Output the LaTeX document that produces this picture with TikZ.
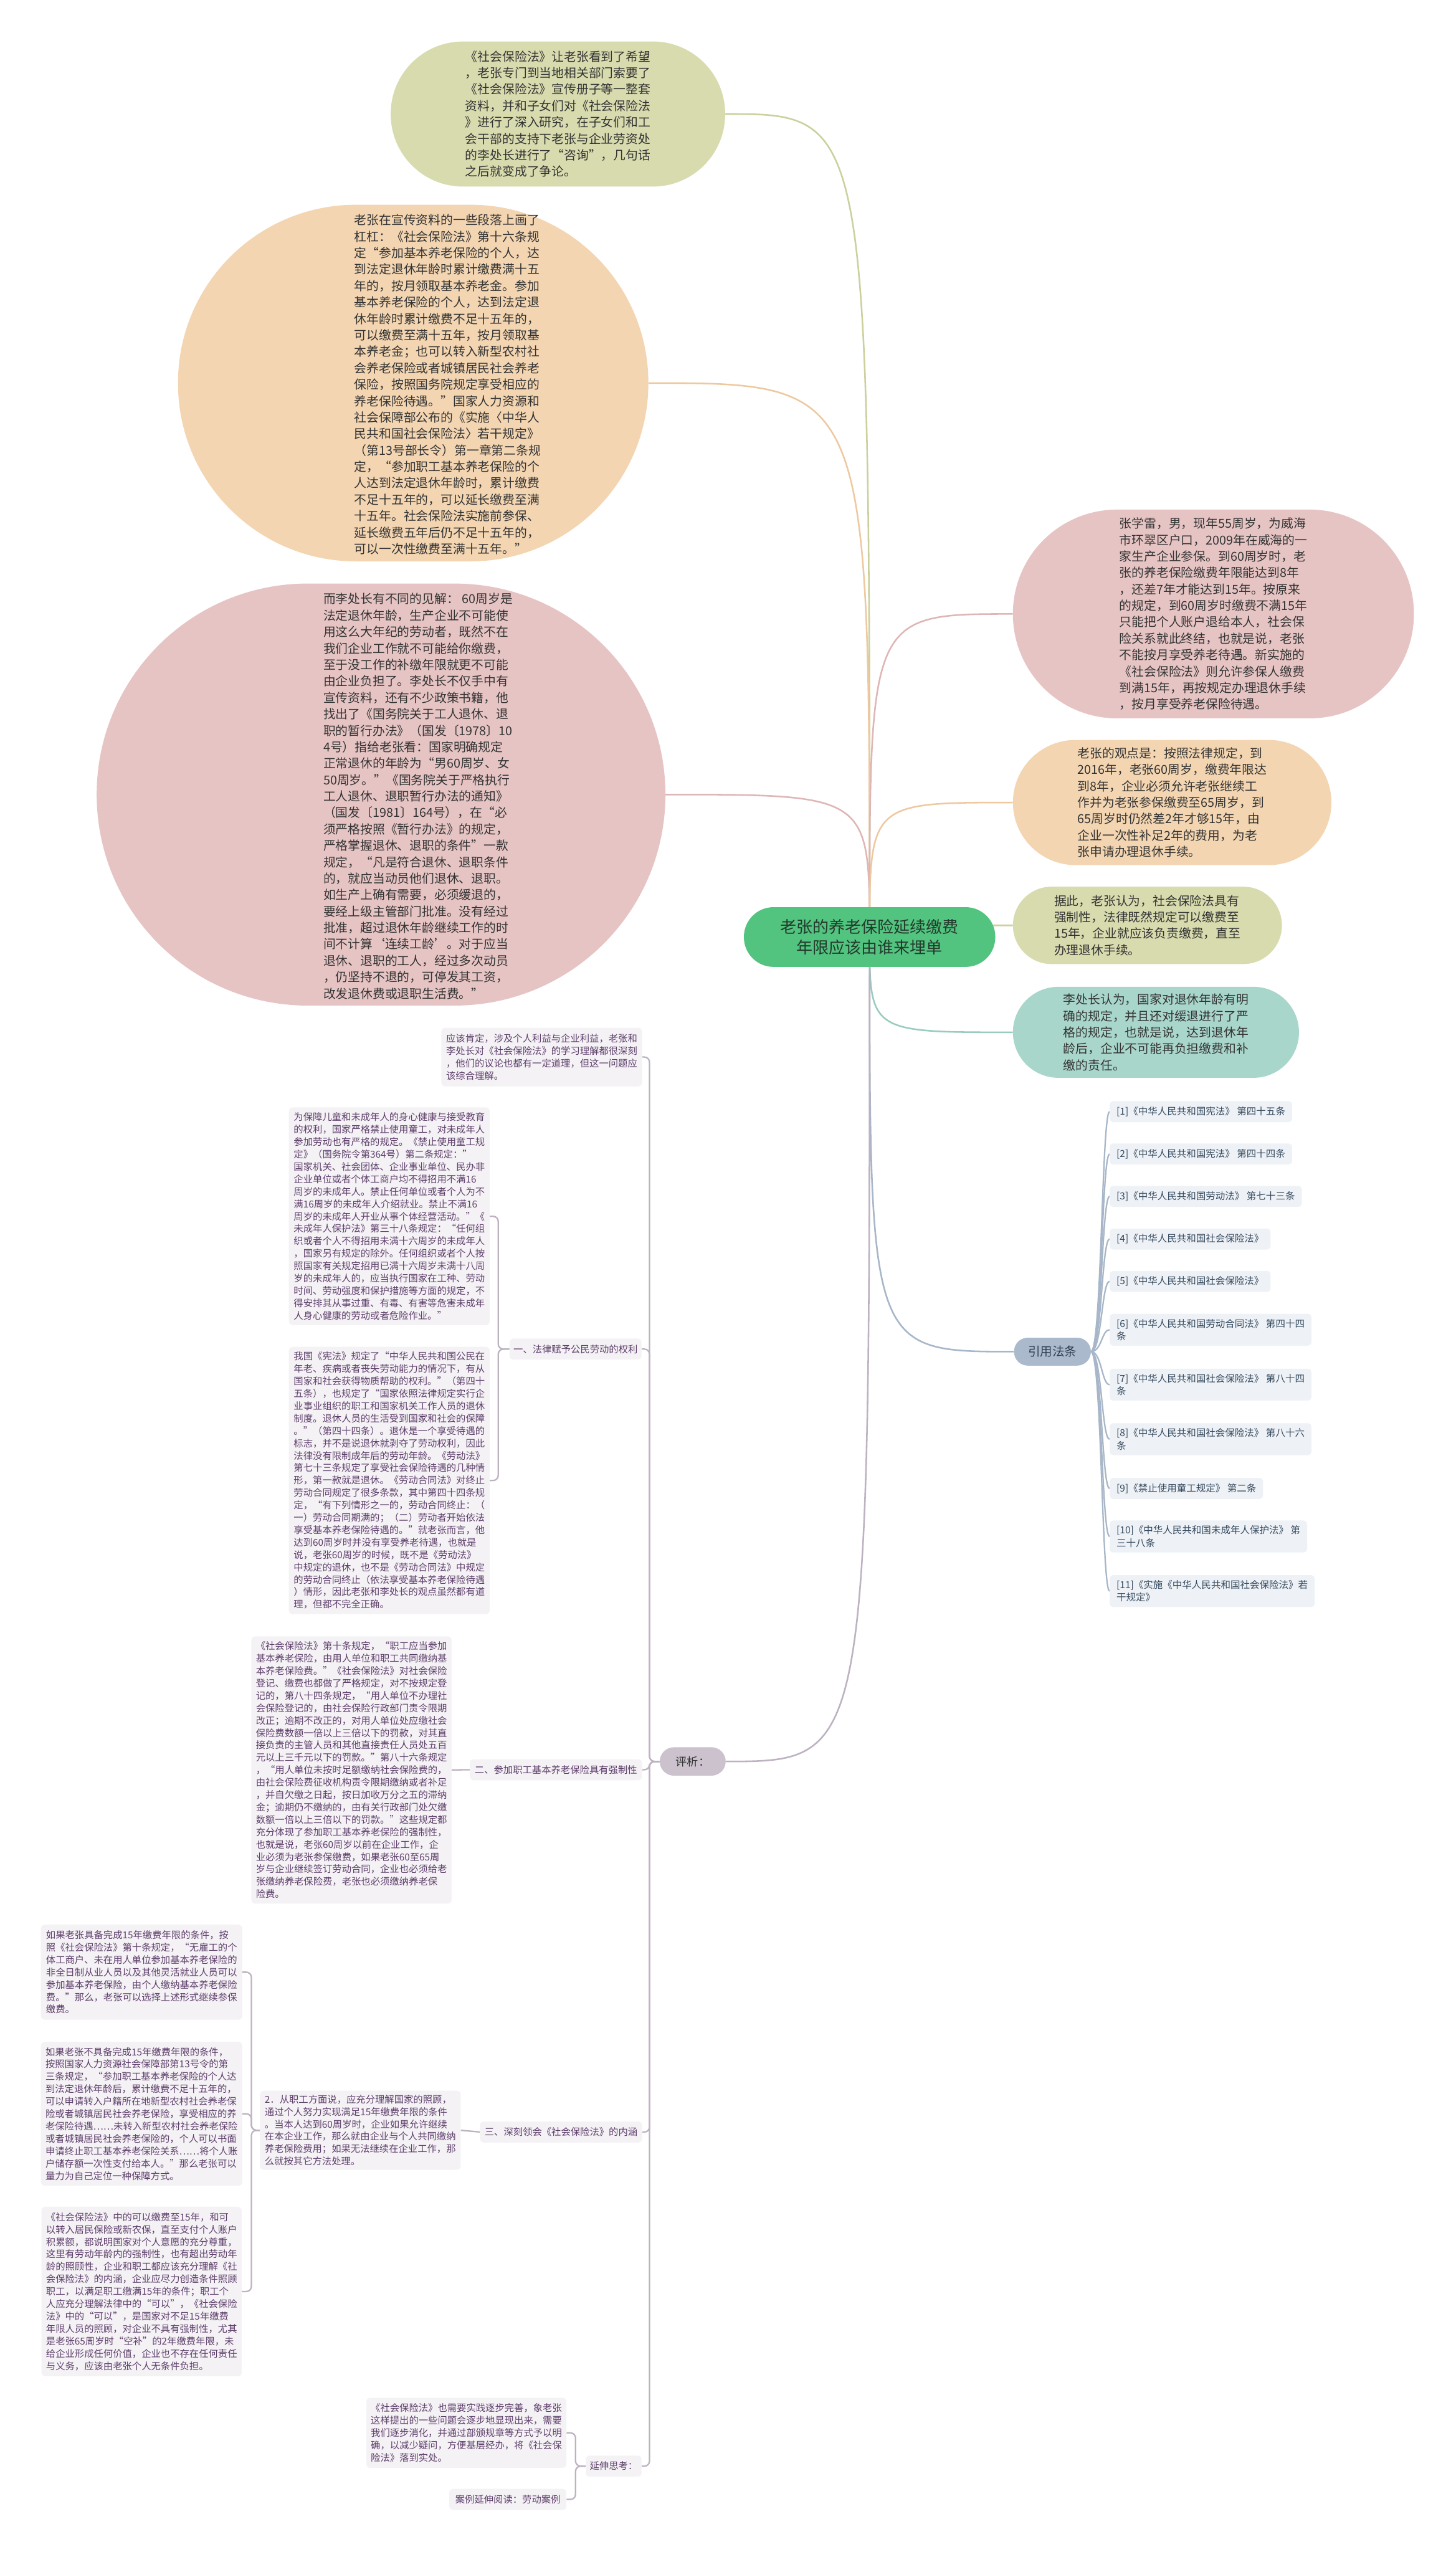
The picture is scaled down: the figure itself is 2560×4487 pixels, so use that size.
\documentclass[tikz,border=0pt]{standalone}
\usepackage{fontspec}
\setmainfont{Noto Sans CJK SC}
\usetikzlibrary{backgrounds}
\definecolor{cgreen}{HTML}{D8DBAE}
\definecolor{corange}{HTML}{F3D5B1}
\definecolor{cpink}{HTML}{E7C4C4}
\definecolor{cteal}{HTML}{A9D6CB}
\definecolor{ccenter}{HTML}{52C47F}
\definecolor{lgreen}{HTML}{CBD09C}
\definecolor{lorange}{HTML}{EEC9A0}
\definecolor{lpink}{HTML}{DFB6B6}
\definecolor{lteal}{HTML}{98CCBF}
\definecolor{refbg}{HTML}{EEF2F6}
\definecolor{reftxt}{HTML}{34495E}
\definecolor{refhead}{HTML}{AAB9CB}
\definecolor{refline}{HTML}{A7B6C8}
\definecolor{pbg}{HTML}{F4F2F5}
\definecolor{ptxt}{HTML}{5E3F6B}
\definecolor{phead}{HTML}{CCC2CE}
\definecolor{pline}{HTML}{BDB2C1}
\definecolor{dtxt}{HTML}{333333}
\begin{document}
\begin{tikzpicture}[x=1pt,y=-1pt,
  bubble/.style={inner sep=0pt, text=dtxt, align=left, font=\fontsize{21.7}{28.9}\selectfont},
  btext/.style={inner sep=0pt, text=dtxt, align=left, font=\fontsize{21.7}{28.9}\selectfont},
  mainline/.style={line width=2.8pt},
  refbox/.style={fill=refbg, text=reftxt, font=\fontsize{17}{22.4}\selectfont, align=left, inner xsep=12pt, inner ysep=9pt, minimum height=37pt, rounded corners=6pt, anchor=west},
  refconn/.style={draw=refline, line width=2.5pt},
  pbox/.style={fill=pbg, text=ptxt, font=\fontsize{16.8}{21.8}\selectfont, align=left, inner sep=0pt, rounded corners=7pt},
  plabel/.style={fill=pbg, text=ptxt, font=\fontsize{16.8}{20}\selectfont, inner sep=0pt, minimum height=37pt, rounded corners=6pt},
  pconn/.style={draw=pline, line width=2.5pt, rounded corners=9pt}
]
\useasboundingbox (0,0) rectangle (2560,4487);

% ---------- central topic ----------
\node[fill=ccenter, text={rgb,255:red,35;green,58;blue,44}, minimum width=442pt, minimum height=105pt, rounded corners=52pt, inner sep=0pt, align=center, font=\fontsize{28.5}{36.7}\selectfont] (C) at (1529,1647.5) {老张的养老保险延续缴费\\年限应该由谁来埋单};

% ---------- left-top bubbles ----------
\node[bubble, fill=cgreen, minimum width=588pt, minimum height=255pt, rounded corners=127pt] (L1) at (981,200.5) {《社会保险法》让老张看到了希望\\，老张专门到当地相关部门索要了\\《社会保险法》宣传册子等一整套\\资料，并和子女们对《社会保险法\\》进行了深入研究，在子女们和工\\会干部的支持下老张与企业劳资处\\的李处长进行了“咨询”，几句话\\之后就变成了争论。};

\node[fill=corange, minimum width=827pt, minimum height=627pt, rounded corners=313pt, inner sep=0pt] (L2) at (726.5,673.5) {};
\node[btext] (L2t) at (787,676) {老张在宣传资料的一些段落上画了\\杠杠：《社会保险法》第十六条规\\定“参加基本养老保险的个人，达\\到法定退休年龄时累计缴费满十五\\年的，按月领取基本养老金。参加\\基本养老保险的个人，达到法定退\\休年龄时累计缴费不足十五年的，\\可以缴费至满十五年，按月领取基\\本养老金；也可以转入新型农村社\\会养老保险或者城镇居民社会养老\\保险，按照国务院规定享受相应的\\养老保险待遇。”国家人力资源和\\社会保障部公布的《实施〈中华人\\民共和国社会保险法〉若干规定》\\（第13号部长令）第一章第二条规\\定，“参加职工基本养老保险的个\\人达到法定退休年龄时，累计缴费\\不足十五年的，可以延长缴费至满\\十五年。社会保险法实施前参保、\\延长缴费五年后仍不足十五年的，\\可以一次性缴费至满十五年。”};

\node[fill=cpink, minimum width=1000pt, minimum height=742pt, rounded corners=371pt, inner sep=0pt] (L3) at (670,1397) {};
\node[btext] (L3t) at (735,1400) {而李处长有不同的见解： 60周岁是\\法定退休年龄，生产企业不可能使\\用这么大年纪的劳动者，既然不在\\我们企业工作就不可能给你缴费，\\至于没工作的补缴年限就更不可能\\由企业负担了。李处长不仅手中有\\宣传资料，还有不少政策书籍，他\\找出了《国务院关于工人退休、退\\职的暂行办法》（国发〔1978〕10\\4号）指给老张看：国家明确规定\\正常退休的年龄为“男60周岁、女\\50周岁。”《国务院关于严格执行\\工人退休、退职暂行办法的通知》\\（国发〔1981〕164号），在“必\\须严格按照《暂行办法》的规定，\\严格掌握退休、退职的条件”一款\\规定，“凡是符合退休、退职条件\\的，就应当动员他们退休、退职。\\如生产上确有需要，必须缓退的，\\要经上级主管部门批准。没有经过\\批准，超过退休年龄继续工作的时\\间不计算‘连续工龄’。对于应当\\退休、退职的工人，经过多次动员\\，仍坚持不退的，可停发其工资，\\改发退休费或退职生活费。”};

% ---------- right bubbles ----------
\node[bubble, fill=cpink, minimum width=705pt, minimum height=367pt, rounded corners=183pt] (R1) at (2133.5,1079.5) {张学雷，男，现年55周岁，为威海\\市环翠区户口，2009年在威海的一\\家生产企业参保。到60周岁时，老\\张的养老保险缴费年限能达到8年\\，还差7年才能达到15年。按原来\\的规定，到60周岁时缴费不满15年\\只能把个人账户退给本人，社会保\\险关系就此终结，也就是说，老张\\不能按月享受养老待遇。新实施的\\《社会保险法》则允许参保人缴费\\到满15年，再按规定办理退休手续\\，按月享受养老保险待遇。};

\node[bubble, fill=corange, minimum width=560pt, minimum height=220pt, rounded corners=110pt] (R2) at (2061,1411) {老张的观点是：按照法律规定，到\\2016年，老张60周岁，缴费年限达\\到8年，企业必须允许老张继续工\\作并为老张参保缴费至65周岁，到\\65周岁时仍然差2年才够15年，由\\企业一次性补足2年的费用，为老\\张申请办理退休手续。};

\node[bubble, fill=cgreen, minimum width=473pt, minimum height=136pt, rounded corners=68pt] (R3) at (2017.5,1627) {据此，老张认为，社会保险法具有\\强制性，法律既然规定可以缴费至\\15年，企业就应该负责缴费，直至\\办理退休手续。};

\node[bubble, fill=cteal, minimum width=503pt, minimum height=160pt, rounded corners=80pt] (R4) at (2032.5,1815) {李处长认为，国家对退休年龄有明\\确的规定，并且还对缓退进行了严\\格的规定，也就是说，达到退休年\\龄后，企业不可能再负担缴费和补\\缴的责任。};

% ---------- references ----------
\node[fill=refhead, text={rgb,255:red,46;green,61;blue,79}, minimum width=135pt, minimum height=49pt, rounded corners=24pt, inner sep=0pt, font=\fontsize{21.5}{24}\selectfont] (yy) at (1850.5,2376.5) {引用法条};
\node[refbox] (r1) at (1951,1954.5) {[1]《中华人民共和国宪法》 第四十五条};
\node[refbox] (r2) at (1951,2029) {[2]《中华人民共和国宪法》 第四十四条};
\node[refbox] (r3) at (1951,2103.5) {[3]《中华人民共和国劳动法》 第七十三条};
\node[refbox] (r4) at (1951,2178.5) {[4]《中华人民共和国社会保险法》};
\node[refbox] (r5) at (1951,2253) {[5]《中华人民共和国社会保险法》};
\node[refbox] (r6) at (1951,2338) {[6]《中华人民共和国劳动合同法》 第四十四\\条};
\node[refbox] (r7) at (1951,2434.5) {[7]《中华人民共和国社会保险法》 第八十四\\条};
\node[refbox] (r8) at (1951,2530.5) {[8]《中华人民共和国社会保险法》 第八十六\\条};
\node[refbox] (r9) at (1951,2617) {[9]《禁止使用童工规定》 第二条};
\node[refbox] (r10) at (1951,2701.5) {[10]《中华人民共和国未成年人保护法》 第\\三十八条};
\node[refbox] (r11) at (1951,2797.5) {[11]《实施《中华人民共和国社会保险法》若\\干规定》};

% ---------- analysis ----------
\node[fill=phead, text={rgb,255:red,51;green,51;blue,51}, minimum width=116pt, minimum height=50pt, rounded corners=25pt, inner sep=0pt, font=\fontsize{20}{24}\selectfont] (px) at (1218,3097) {评析：};

\node[pbox, minimum width=353pt, minimum height=103pt] (a) at (952.5,1858.5) {应该肯定，涉及个人利益与企业利益，老张和\\李处长对《社会保险法》的学习理解都很深刻\\，他们的议论也都有一定道理，但这一问题应\\该综合理解。};

\node[plabel, minimum width=232pt] (yi) at (1012,2372) {一、法律赋予公民劳动的权利};
\node[pbox, minimum width=353pt, minimum height=383pt] (b1) at (684.5,2138.5) {为保障儿童和未成年人的身心健康与接受教育\\的权利，国家严格禁止使用童工，对未成年人\\参加劳动也有严格的规定。《禁止使用童工规\\定》（国务院令第364号）第二条规定：”\\国家机关、社会团体、企业事业单位、民办非\\企业单位或者个体工商户均不得招用不满16\\周岁的未成年人。禁止任何单位或者个人为不\\满16周岁的未成年人介绍就业。禁止不满16\\周岁的未成年人开业从事个体经营活动。”《\\未成年人保护法》第三十八条规定：“任何组\\织或者个人不得招用未满十六周岁的未成年人\\，国家另有规定的除外。任何组织或者个人按\\照国家有关规定招用已满十六周岁未满十八周\\岁的未成年人的，应当执行国家在工种、劳动\\时间、劳动强度和保护措施等方面的规定，不\\得安排其从事过重、有毒、有害等危害未成年\\人身心健康的劳动或者危险作业。”};
\node[pbox, minimum width=353pt, minimum height=470pt] (b2) at (684.5,2603) {我国《宪法》规定了“中华人民共和国公民在\\年老、疾病或者丧失劳动能力的情况下，有从\\国家和社会获得物质帮助的权利。”（第四十\\五条），也规定了“国家依照法律规定实行企\\业事业组织的职工和国家机关工作人员的退休\\制度。退休人员的生活受到国家和社会的保障\\。”（第四十四条）。退休是一个享受待遇的\\标志，并不是说退休就剥夺了劳动权利，因此\\法律没有限制成年后的劳动年龄。《劳动法》\\第七十三条规定了享受社会保险待遇的几种情\\形，第一款就是退休。《劳动合同法》对终止\\劳动合同规定了很多条款，其中第四十四条规\\定，“有下列情形之一的，劳动合同终止：（\\一）劳动合同期满的；（二）劳动者开始依法\\享受基本养老保险待遇的。”就老张而言，他\\达到60周岁时并没有享受养老待遇，也就是\\说，老张60周岁的时候，既不是《劳动法》\\中规定的退休，也不是《劳动合同法》中规定\\的劳动合同终止（依法享受基本养老保险待遇\\）情形，因此老张和李处长的观点虽然都有道\\理，但都不完全正确。};

\node[plabel, minimum width=303pt] (er) at (977.5,3111.5) {二、参加职工基本养老保险具有强制性};
\node[pbox, minimum width=352pt, minimum height=470pt] (c) at (618,3112) {《社会保险法》第十条规定，“职工应当参加\\基本养老保险，由用人单位和职工共同缴纳基\\本养老保险费。”《社会保险法》对社会保险\\登记、缴费也都做了严格规定，对不按规定登\\记的，第八十四条规定，“用人单位不办理社\\会保险登记的，由社会保险行政部门责令限期\\改正；逾期不改正的，对用人单位处应缴社会\\保险费数额一倍以上三倍以下的罚款，对其直\\接负责的主管人员和其他直接责任人员处五百\\元以上三千元以下的罚款。”第八十六条规定\\，“用人单位未按时足额缴纳社会保险费的，\\由社会保险费征收机构责令限期缴纳或者补足\\，并自欠缴之日起，按日加收万分之五的滞纳\\金；逾期仍不缴纳的，由有关行政部门处欠缴\\数额一倍以上三倍以下的罚款。”这些规定都\\充分体现了参加职工基本养老保险的强制性，\\也就是说，老张60周岁以前在企业工作，企\\业必须为老张参保缴费，如果老张60至65周\\岁与企业继续签订劳动合同，企业也必须给老\\张缴纳养老保险费，老张也必须缴纳养老保\\险费。};

\node[plabel, minimum width=285pt] (san) at (986.5,3748.5) {三、深刻领会《社会保险法》的内涵};
\node[pbox, minimum width=353pt, minimum height=139pt] (d) at (633.5,3745.5) {2．从职工方面说，应充分理解国家的照顾，\\通过个人努力实现满足15年缴费年限的条件\\。当本人达到60周岁时，企业如果允许继续\\在本企业工作，那么就由企业与个人共同缴纳\\养老保险费用；如果无法继续在企业工作，那\\么就按其它方法处理。};
\node[pbox, minimum width=354pt, minimum height=167pt] (d1) at (249,3467.5) {如果老张具备完成15年缴费年限的条件，按\\照《社会保险法》第十条规定，“无雇工的个\\体工商户、未在用人单位参加基本养老保险的\\非全日制从业人员以及其他灵活就业人员可以\\参加基本养老保险，由个人缴纳基本养老保险\\费。”那么，老张可以选择上述形式继续参保\\缴费。};
\node[pbox, minimum width=354pt, minimum height=253pt] (d2) at (249,3716.5) {如果老张不具备完成15年缴费年限的条件，\\按照国家人力资源社会保障部第13号令的第\\三条规定，“参加职工基本养老保险的个人达\\到法定退休年龄后，累计缴费不足十五年的，\\可以申请转入户籍所在地新型农村社会养老保\\险或者城镇居民社会养老保险，享受相应的养\\老保险待遇……未转入新型农村社会养老保险\\或者城镇居民社会养老保险的，个人可以书面\\申请终止职工基本养老保险关系……将个人账\\户储存额一次性支付给本人。”那么老张可以\\量力为自己定位一种保障方式。};
\node[pbox, minimum width=352pt, minimum height=298pt] (d3) at (249,4029) {《社会保险法》中的可以缴费至15年，和可\\以转入居民保险或新农保，直至支付个人账户\\积累额，都说明国家对个人意愿的充分尊重，\\这里有劳动年龄内的强制性，也有超出劳动年\\龄的照顾性，企业和职工都应该充分理解《社\\会保险法》的内涵，企业应尽力创造条件照顾\\职工，以满足职工缴满15年的条件；职工个\\人应充分理解法律中的“可以”，《社会保险\\法》中的“可以”，是国家对不足15年缴费\\年限人员的照顾，对企业不具有强制性，尤其\\是老张65周岁时“空补”的2年缴费年限，未\\给企业形成任何价值，企业也不存在任何责任\\与义务，应该由老张个人无条件负担。};

\node[plabel, minimum width=98pt] (yan) at (1079,4336) {延伸思考：};
\node[pbox, minimum width=352pt, minimum height=123pt] (e1) at (820,4277.5) {《社会保险法》也需要实践逐步完善，象老张\\这样提出的一些问题会逐步地显现出来，需要\\我们逐步消化，并通过部颁规章等方式予以明\\确，以减少疑问，方便基层经办，将《社会保\\险法》落到实处。};
\node[plabel, minimum width=206pt] (e2) at (893,4394.5) {案例延伸阅读：劳动案例};

% ---------- connectors ----------
\coordinate (pxs) at (1142,3097);
\coordinate (yis) at (876,2372);
\coordinate (ds) at (442,3745.5);
\coordinate (yans) at (1012,4336);

\begin{scope}[on background layer]
\fill[white] (0,0) rectangle (2560,4487);
\draw[mainline, lgreen] (C.center) .. controls (1529,200) .. (L1.east);
\draw[mainline, lorange] (C.center) .. controls (1529,673.5) .. (L2.east);
\draw[mainline, lpink] (C.center) .. controls (1529,1397) .. (L3.east);
\draw[mainline, lpink] (C.center) .. controls (1529,1079.5) .. (R1.west);
\draw[mainline, lorange] (C.center) .. controls (1529,1411) .. (R2.west);
\draw[mainline, lgreen] (C.center) .. controls (1529,1627) .. (R3.west);
\draw[mainline, lteal] (C.center) .. controls (1529,1815) .. (R4.west);
\draw[mainline, refline] (C.center) .. controls (1529,2376.5) .. (yy.west);
\draw[mainline, pline] (C.center) .. controls (1529,3097) .. (px.east);

\foreach \r in {r1,r2,r3,r4,r5,r6,r7,r8,r9,r10,r11}
  \draw[refconn] (yy.east) .. controls +(19,0) and +(-14,0) .. (\r.west);

\foreach \t in {a,yi,er,san,yan}
  \draw[pconn] (px.west) -- (pxs) |- (\t.east);
\foreach \t in {b1,b2}
  \draw[pconn] (yi.west) -- (yis) |- (\t.east);
\draw[pconn] (er.west) -- (c.east);
\draw[pconn] (san.west) -- (d.east);
\foreach \t in {d1,d2,d3}
  \draw[pconn] (d.west) -- (ds) |- (\t.east);
\foreach \t in {e1,e2}
  \draw[pconn] (yan.west) -- (yans) |- (\t.east);
\end{scope}
\end{tikzpicture}
\end{document}
